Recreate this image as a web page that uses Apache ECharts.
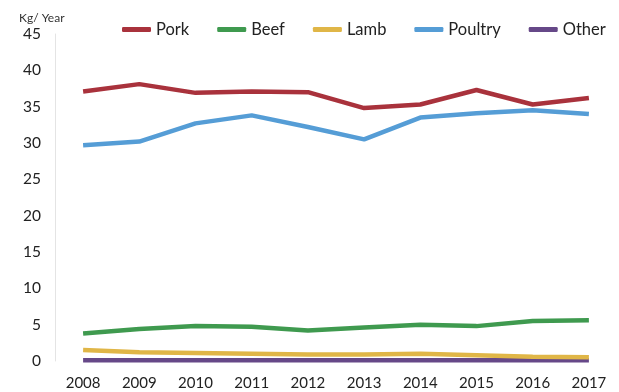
<!DOCTYPE html>
<html>
<head>
<meta charset="utf-8">
<script src="https://cdn.jsdelivr.net/npm/echarts@6/dist/echarts.min.js"></script>
<style>
  html, body { margin: 0; padding: 0; background: #fff; }
  #chart { width: 619px; height: 392px; }
</style>
</head>
<body>
<div id="chart"></div>
<script>
// values, kg per person per year
const years = ['2008', '2009', '2010', '2011', '2012', '2013', '2014', '2015', '2016', '2017'];
const pork = [37.1, 38.1, 36.9, 37.1, 37.0, 34.8, 35.3, 37.3, 35.3, 36.2];
const beef = [3.8, 4.4, 4.8, 4.7, 4.2, 4.6, 5.0, 4.8, 5.5, 5.6];
const lamb = [1.5, 1.2, 1.1, 1.0, 0.9, 0.9, 1.0, 0.8, 0.6, 0.5];
const poultry = [29.7, 30.2, 32.7, 33.8, 32.2, 30.5, 33.5, 34.1, 34.5, 34.0];
const other = [0.1, 0.1, 0.1, 0.1, 0.1, 0.1, 0.1, 0.1, 0.1, 0.1];

const font = 'Lato, "DejaVu Sans", sans-serif';

function line(name, data, color) {
  return {
    name: name,
    type: 'line',
    data: data,
    symbol: 'none',
    lineStyle: { color: color, width: 4.5 },
    itemStyle: { color: color },
    z: name == 'Other' ? 1 : 2
  };
}

const chart = echarts.init(document.getElementById('chart'));
chart.setOption({
  animation: false,
  textStyle: { fontFamily: font },
  title: {
    text: 'Kg/ Year',
    left: 14,
    top: 7,
    textStyle: { fontSize: 12, fontWeight: 'normal', color: '#333', fontFamily: font }
  },
  legend: {
    left: 117,
    top: 16,
    icon: 'roundRect',
    itemWidth: 29,
    itemHeight: 5,
    itemGap: 28,
    textStyle: { fontSize: 16.5, color: '#222', fontFamily: font },
    data: ['Pork', 'Beef', 'Lamb', 'Poultry', 'Other']
  },
  grid: { left: 55, right: 2, top: 34, bottom: 31 },
  xAxis: {
    type: 'category',
    data: years,
    axisLine: { show: false },
    axisTick: { show: false },
    axisLabel: { fontSize: 15, color: '#222', margin: 15 }
  },
  yAxis: {
    type: 'value',
    min: 0,
    max: 45,
    interval: 5,
    splitLine: { show: false },
    axisLine: { show: true, lineStyle: { color: '#e4e4e4' } },
    axisTick: { show: false },
    axisLabel: { fontSize: 15.5, color: '#222', margin: 14 }
  },
  series: [
    line('Pork', pork, '#a9323c'),
    line('Beef', beef, '#3f9a4f'),
    line('Lamb', lamb, '#e0b647'),
    line('Poultry', poultry, '#559dd6'),
    line('Other', other, '#664888')
  ]
});
</script>
</body>
</html>
